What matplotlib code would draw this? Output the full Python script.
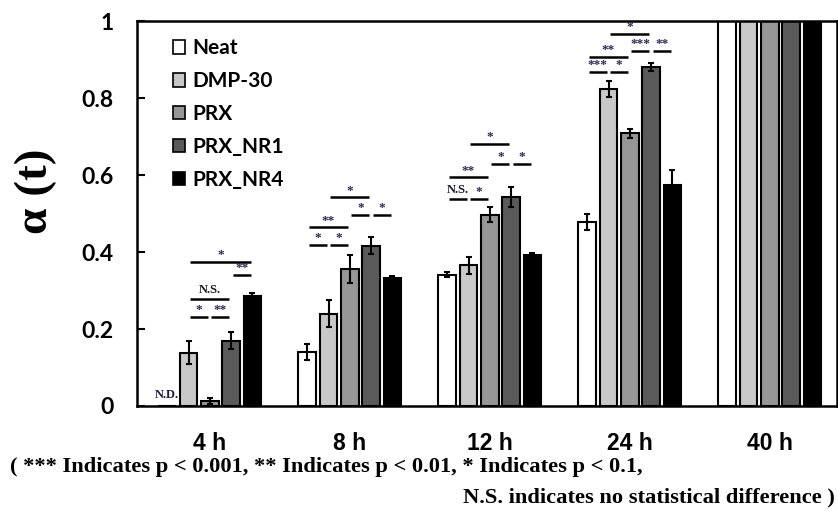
import numpy as np
import matplotlib
matplotlib.use("Agg")
import matplotlib.pyplot as plt
from matplotlib.patches import Patch

# ---------------- data ----------------
categories = ["4 h", "8 h", "12 h", "24 h", "40 h"]
series = ["Neat", "DMP-30", "PRX", "PRX_NR1", "PRX_NR4"]
colors = ["#ffffff", "#c8c8c8", "#969696", "#5a5a5a", "#000000"]

neat    = [0.000, 0.140, 0.341, 0.479, 1.0]
dmp30   = [0.138, 0.240, 0.365, 0.823, 1.0]
prx     = [0.014, 0.356, 0.497, 0.708, 1.0]
prx_nr1 = [0.170, 0.416, 0.543, 0.880, 1.0]
prx_nr4 = [0.286, 0.333, 0.393, 0.573, 1.0]

neat_err    = [0.000, 0.020, 0.007, 0.021, 0.0]
dmp30_err   = [0.030, 0.035, 0.023, 0.021, 0.0]
prx_err     = [0.008, 0.036, 0.020, 0.012, 0.0]
prx_nr1_err = [0.022, 0.022, 0.027, 0.010, 0.0]
prx_nr4_err = [0.008, 0.005, 0.005, 0.040, 0.0]

values = [neat, dmp30, prx, prx_nr1, prx_nr4]
errors = [neat_err, dmp30_err, prx_err, prx_nr1_err, prx_nr4_err]

# significance brackets: group, bar i, bar j, height, label
sig_group = [0, 0, 0, 0, 0,
             1, 1, 1, 1, 1, 1,
             2, 2, 2, 2, 2, 2,
             3, 3, 3, 3, 3, 3]
sig_i = [1, 2, 1, 3, 1,
         0, 1, 0, 2, 3, 1,
         0, 1, 0, 2, 3, 1,
         0, 1, 0, 2, 3, 1]
sig_j = [2, 3, 3, 4, 4,
         1, 2, 2, 3, 4, 3,
         1, 2, 2, 3, 4, 3,
         1, 2, 2, 3, 4, 3]
sig_y = [0.232, 0.232, 0.279, 0.341, 0.375,
         0.419, 0.419, 0.464, 0.497, 0.497, 0.542,
         0.537, 0.537, 0.594, 0.628, 0.628, 0.680,
         0.867, 0.867, 0.906, 0.922, 0.922, 0.966]
sig_label = ["*", "**", "N.S.", "**", "*",
             "*", "*", "**", "*", "*", "*",
             "N.S.", "*", "**", "*", "*", "*",
             "***", "*", "**", "***", "**", "*"]

yticks = [0, 0.2, 0.4, 0.6, 0.8, 1.0]
ytick_labels = ["0", "0.2", "0.4", "0.6", "0.8", "1"]

# ---------------- figure ----------------
fig = plt.figure(figsize=(8.38, 5.11), dpi=100)
ax = fig.add_axes([137 / 838, 1 - 406 / 511, 700 / 838, 385 / 511])

x = np.arange(len(categories))
pitch = 0.152
width = 0.125
offsets = (np.arange(len(series)) - 2) * pitch

for k in range(len(series)):
    ax.bar(x + offsets[k], values[k], width=width, color=colors[k],
           edgecolor="black", linewidth=1.5, label=series[k], zorder=2)
    err = np.array(errors[k])
    mask = err > 0
    ax.errorbar((x + offsets[k])[mask], np.array(values[k])[mask],
                yerr=err[mask], fmt="none", ecolor="black",
                elinewidth=1.5, capsize=2.5, capthick=1.5, zorder=3)

# significance brackets
inset = 0.012
for g, i, j, yv, lab in zip(sig_group, sig_i, sig_j, sig_y, sig_label):
    x0 = g + offsets[i] + inset
    x1 = g + offsets[j] - inset
    ax.plot([x0, x1], [yv, yv], color="black", lw=1.8,
            solid_capstyle="butt", zorder=4)
    if lab == "N.S.":
        ax.text((x0 + x1) / 2, yv + 0.008, lab, ha="center", va="bottom",
                fontsize=9, fontweight="bold", family="Liberation Serif",
                color="#1a1a2a")
    else:
        ax.text((x0 + x1) / 2, yv + 0.002, lab, ha="center", va="bottom",
                fontsize=9.5, fontweight="bold", family="Liberation Serif",
                color="#2a2a50")

# N.D. label for Neat at 4 h
ax.text(x[0] + offsets[0], 0.012, "N.D.", ha="center", va="bottom",
        fontsize=9, fontweight="bold", family="Liberation Serif",
        color="#1a1a3a")

ax.set_xlim(-0.52, 4.48)
ax.set_ylim(0, 1)
ax.set_yticks(yticks)
ax.set_yticklabels(ytick_labels, fontsize=16.5, fontweight="bold", family="Lato")
ax.tick_params(axis="y", direction="in", length=6, width=1.5, pad=17)
ax.set_xticks(x)
ax.set_xticklabels(categories, fontsize=16.5, fontweight="bold",
                   family=["Liberation Sans Narrow", "Liberation Sans"])
ax.tick_params(axis="x", length=0, pad=19)
for s in ax.spines.values():
    s.set_linewidth(1.8)

handles = [Patch(facecolor=c, edgecolor="black", linewidth=1.2) for c in colors]
leg = ax.legend(handles, series, loc="upper left", bbox_to_anchor=(0.024, 1.004),
                frameon=False, handlelength=0.62, handleheight=0.62,
                handletextpad=0.35, labelspacing=0.62,
                prop={"family": "Lato", "weight": "bold", "size": 15})

fig.text(36 / 838, 1 - 191 / 511, "α (t)", rotation=90, ha="center",
         va="center", fontsize=34, fontweight="bold", family="Liberation Serif")

fig.text(10 / 838, 1 - 467 / 511,
         "( *** Indicates p < 0.001, ** Indicates p < 0.01, * Indicates p < 0.1,",
         ha="left", va="center", fontsize=16.2, fontweight="bold",
         family="Liberation Serif")
fig.text(835 / 838, 1 - 497 / 511,
         "N.S. indicates no statistical difference )",
         ha="right", va="center", fontsize=16.2, fontweight="bold",
         family="Liberation Serif")

fig.savefig("out.png", dpi=100)
